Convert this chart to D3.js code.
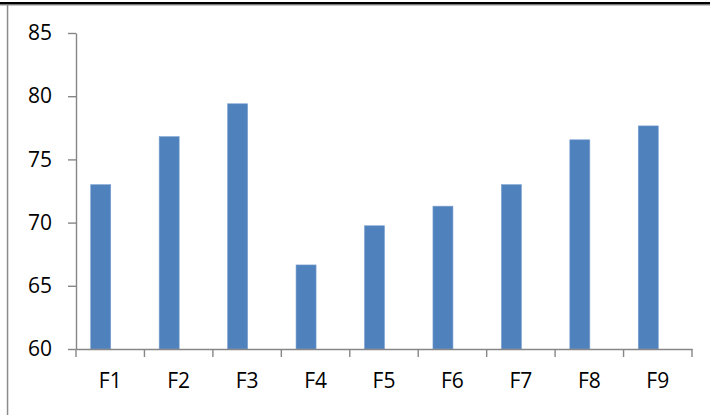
<!DOCTYPE html>
<html>
<head>
<meta charset="utf-8">
<script src="https://cdn.jsdelivr.net/npm/d3@7"></script>
<style>
  html, body { margin: 0; padding: 0; background: #fff; }
  svg { display: block; }
</style>
</head>
<body>
<svg id="chart" width="710" height="415"></svg>
<script>
// Category labels and their values
const categories = ["F1", "F2", "F3", "F4", "F5", "F6", "F7", "F8", "F9"];
const values = [73.0, 76.8, 79.4, 66.65, 69.75, 71.3, 73.0, 76.55, 77.65];
const yTicks = [60, 65, 70, 75, 80, 85];

const svg = d3.select("#chart");
const W = 710, H = 415;
const plot = { left: 76, right: 692, top: 33, bottom: 349 };
const axisColor = "#868686";
const barColor = "#4F81BD";
const font = "'Open Sans', 'Liberation Sans', sans-serif";
const fontSize = 21;

// Frame: thick dark rule along the top, thin grey rule on the left
svg.append("rect").attr("x", 0).attr("y", 4.3).attr("width", W).attr("height", 1.5)
  .attr("fill", "#b8b8b8");
svg.append("rect").attr("x", 0).attr("y", 2).attr("width", W).attr("height", 2.4)
  .attr("fill", "#000");
svg.append("rect").attr("x", 6.8).attr("y", 4.4).attr("width", 1.5).attr("height", H - 4.4)
  .attr("fill", "#8a8a8a");

const x = d3.scaleBand().domain(categories).range([plot.left, plot.right]).paddingInner(0).paddingOuter(0);
const y = d3.scaleLinear().domain([60, 85]).range([plot.bottom, plot.top]);

// Bars sit just left of each category centre
const barW = 20;
svg.append("g").selectAll("rect").data(categories).join("rect")
  .attr("x", (d) => x(d) + x.bandwidth() / 2 - barW + 0.5)
  .attr("y", (d, i) => y(values[i]))
  .attr("width", barW)
  .attr("height", (d, i) => y(60) - y(values[i]))
  .attr("fill", barColor)
  .attr("stroke", "#7aa0d0")
  .attr("stroke-width", 0.6);

// Y axis
const yAxis = svg.append("g").attr("transform", `translate(${plot.left},0)`)
  .call(d3.axisLeft(y).tickValues(yTicks).tickSize(8).tickSizeOuter(0).tickPadding(16));
yAxis.select(".domain").attr("stroke", axisColor).attr("stroke-width", 1.4);
yAxis.selectAll(".tick line").attr("stroke", axisColor).attr("stroke-width", 1.4);
yAxis.selectAll("text").attr("font-family", font).attr("font-size", fontSize).attr("fill", "#000");

// X axis: labels at category centres, tick marks on category boundaries
const xAxis = svg.append("g").attr("transform", `translate(0,${plot.bottom})`)
  .call(d3.axisBottom(x).tickSize(0).tickSizeOuter(0).tickPadding(24));
xAxis.select(".domain").attr("stroke", axisColor).attr("stroke-width", 1.4);
xAxis.selectAll("text").attr("font-family", font).attr("font-size", fontSize).attr("fill", "#000");

const bounds = categories.map((d) => x(d)).concat([x(categories[categories.length - 1]) + x.bandwidth()]);
xAxis.append("g").selectAll("line").data(bounds).join("line")
  .attr("x1", (d) => d).attr("x2", (d) => d)
  .attr("y1", 0).attr("y2", 8)
  .attr("stroke", axisColor).attr("stroke-width", 1.4);
</script>
</body>
</html>
